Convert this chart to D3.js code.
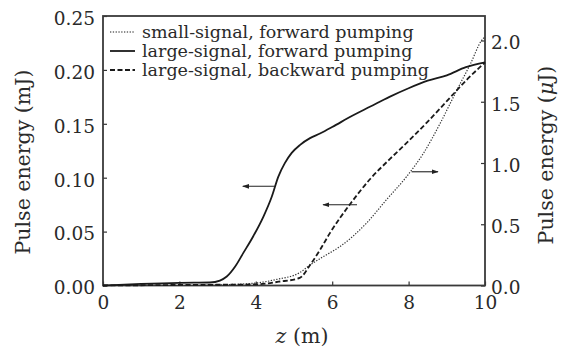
<!DOCTYPE html>
<html>
<head>
<meta charset="utf-8">
<script src="https://cdn.jsdelivr.net/npm/d3@7/dist/d3.min.js"></script>
<style>
  html, body { margin: 0; padding: 0; background: #fff; }
  svg text { font-family: "DejaVu Serif", "Liberation Serif", serif; fill: #2a2a2a; }
</style>
</head>
<body>
<svg id="chart" width="562" height="349"></svg>
<script>
// Propagation distance z (m) and pulse energies along the fibre
const zSolid = [0, 1, 2, 2.8, 3.06, 3.24, 3.46, 3.67, 3.93, 4.2, 4.42, 4.59, 4.76, 4.94, 5.16, 5.42, 5.68, 6.0, 6.5, 7.0, 7.5, 8.0, 8.5, 9.0, 9.5, 10];
const largeForward = [0, 0.0015, 0.0025, 0.0028, 0.0046, 0.0083, 0.0176, 0.030, 0.0455, 0.064, 0.0826, 0.101, 0.1135, 0.123, 0.1305, 0.1367, 0.141, 0.147, 0.157, 0.166, 0.175, 0.183, 0.190, 0.195, 0.2025, 0.207];

const zDashed = [0, 2, 4, 4.6, 5.15, 5.42, 5.68, 5.94, 6.5, 7.0, 7.5, 8.0, 8.5, 9.0, 9.5, 10];
const largeBackward = [0, 0.0005, 0.001, 0.0035, 0.007, 0.019, 0.033, 0.0486, 0.077, 0.099, 0.117, 0.134, 0.152, 0.171, 0.190, 0.207];

const zDotted = [0, 2, 3, 4, 4.55, 5.15, 5.42, 5.77, 6.2, 6.9, 7.42, 7.95, 8.39, 8.82, 9.26, 9.62, 9.91, 10];
const smallForward = [0, 0, 0.005, 0.02, 0.05, 0.105, 0.168, 0.236, 0.317, 0.51, 0.70, 0.89, 1.08, 1.32, 1.593, 1.81, 2.0, 2.03];

const xTicks = [0, 2, 4, 6, 8, 10];
const yLeftTicks = [0, 0.05, 0.10, 0.15, 0.20, 0.25];
const yRightTicks = [0, 0.5, 1.0, 1.5, 2.0];

const legendLabels = ["small-signal, forward pumping", "large-signal, forward pumping", "large-signal, backward pumping"];

// Arrows pointing each curve to its axis: [z from, z to, value on left axis]
const arrows = [[4.5, 3.66, 0.092], [6.65, 5.76, 0.0749], [8.08, 8.77, 0.1055]];

const svg = d3.select("#chart");
const L = 103, R = 485, T = 16, B = 285.5;

const x = d3.scaleLinear().domain([0, 10]).range([L, R]);
const yL = d3.scaleLinear().domain([0, 0.25]).range([B, T]);
const yR = d3.scaleLinear().domain([0, 2.2]).range([B, T]);

const fmt2 = d3.format(".2f"), fmt1 = d3.format(".1f");

// Axes with inward ticks
const axL = svg.append("g").attr("transform", `translate(${L},0)`)
  .call(d3.axisLeft(yL).tickValues(yLeftTicks).tickFormat(fmt2).tickSizeInner(-4).tickSizeOuter(0).tickPadding(8));
const axR = svg.append("g").attr("transform", `translate(${R},0)`)
  .call(d3.axisRight(yR).tickValues(yRightTicks).tickFormat(fmt1).tickSizeInner(-4).tickSizeOuter(0).tickPadding(6));
const axB = svg.append("g").attr("transform", `translate(0,${B})`)
  .call(d3.axisBottom(x).tickValues(xTicks).tickFormat(d3.format("d")).tickSizeInner(-4).tickSizeOuter(0).tickPadding(10));

[axL, axR, axB].forEach(g => {
  g.select(".domain").remove();
  g.selectAll("line").attr("stroke", "#333").attr("stroke-width", 1.2);
  g.selectAll("text").attr("font-size", 18.5).attr("font-family", "DejaVu Serif").attr("fill", "#2a2a2a");
});
axL.selectAll("text").attr("dy", "0.45em");
axR.selectAll("text").attr("dy", "0.45em");

// Frame
svg.append("rect").attr("x", L).attr("y", T).attr("width", R - L).attr("height", B - T)
  .attr("fill", "none").attr("stroke", "#3a3a3a").attr("stroke-width", 1.8);

// Curves
const lineL = d3.line().x(d => x(d[0])).y(d => yL(d[1])).curve(d3.curveMonotoneX);
const lineR = d3.line().x(d => x(d[0])).y(d => yR(d[1])).curve(d3.curveMonotoneX);

svg.append("path").datum(d3.zip(zDotted, smallForward)).attr("d", lineR)
  .attr("fill", "none").attr("stroke", "#333").attr("stroke-width", 1.2).attr("stroke-dasharray", "1.3,1.5");
svg.append("path").datum(d3.zip(zDashed, largeBackward)).attr("d", lineL)
  .attr("fill", "none").attr("stroke", "#1a1a1a").attr("stroke-width", 1.8).attr("stroke-dasharray", "5,2.5");
svg.append("path").datum(d3.zip(zSolid, largeForward)).attr("d", lineL)
  .attr("fill", "none").attr("stroke", "#1a1a1a").attr("stroke-width", 1.8);

// Arrowheads
svg.append("defs").append("marker").attr("id", "head")
  .attr("viewBox", "0 0 10 10").attr("refX", 9).attr("refY", 5)
  .attr("markerWidth", 7).attr("markerHeight", 7).attr("markerUnits", "userSpaceOnUse")
  .attr("orient", "auto")
  .append("path").attr("d", "M0,1.5 L10,5 L0,8.5 Z").attr("fill", "#222");

svg.selectAll(".arrow").data(arrows).join("line").attr("class", "arrow")
  .attr("x1", d => x(d[0])).attr("x2", d => x(d[1]))
  .attr("y1", d => yL(d[2])).attr("y2", d => yL(d[2]))
  .attr("stroke", "#222").attr("stroke-width", 1.1).attr("marker-end", "url(#head)");

// Legend
const dashes = ["1.3,1.5", null, "5,2.5"];
const widths = [1.2, 1.8, 1.8];
const lg = svg.append("g");
legendLabels.forEach((lab, i) => {
  const yy = 32 + i * 19;
  lg.append("line").attr("x1", 110).attr("x2", 135).attr("y1", yy).attr("y2", yy)
    .attr("stroke", "#1a1a1a").attr("stroke-width", widths[i])
    .attr("stroke-dasharray", dashes[i]);
  lg.append("text").attr("x", 142).attr("y", yy).attr("dy", "0.33em")
    .attr("font-size", 17.5).text(lab);
});

// Axis titles
svg.append("text").attr("transform", "translate(30,162) rotate(-90)")
  .attr("text-anchor", "middle").attr("font-size", 20.5).text("Pulse energy (mJ)");
const tr = svg.append("text").attr("transform", "translate(553,155) rotate(-90)")
  .attr("text-anchor", "middle").attr("font-size", 20.5);
tr.append("tspan").text("Pulse energy (");
tr.append("tspan").attr("font-style", "italic").text("\u03bc");
tr.append("tspan").text("J)");

const tx = svg.append("text").attr("x", 302).attr("y", 343).attr("text-anchor", "middle").attr("font-size", 20.5);
tx.append("tspan").attr("font-style", "italic").text("z");
tx.append("tspan").text(" (m)");
</script>
</body>
</html>
